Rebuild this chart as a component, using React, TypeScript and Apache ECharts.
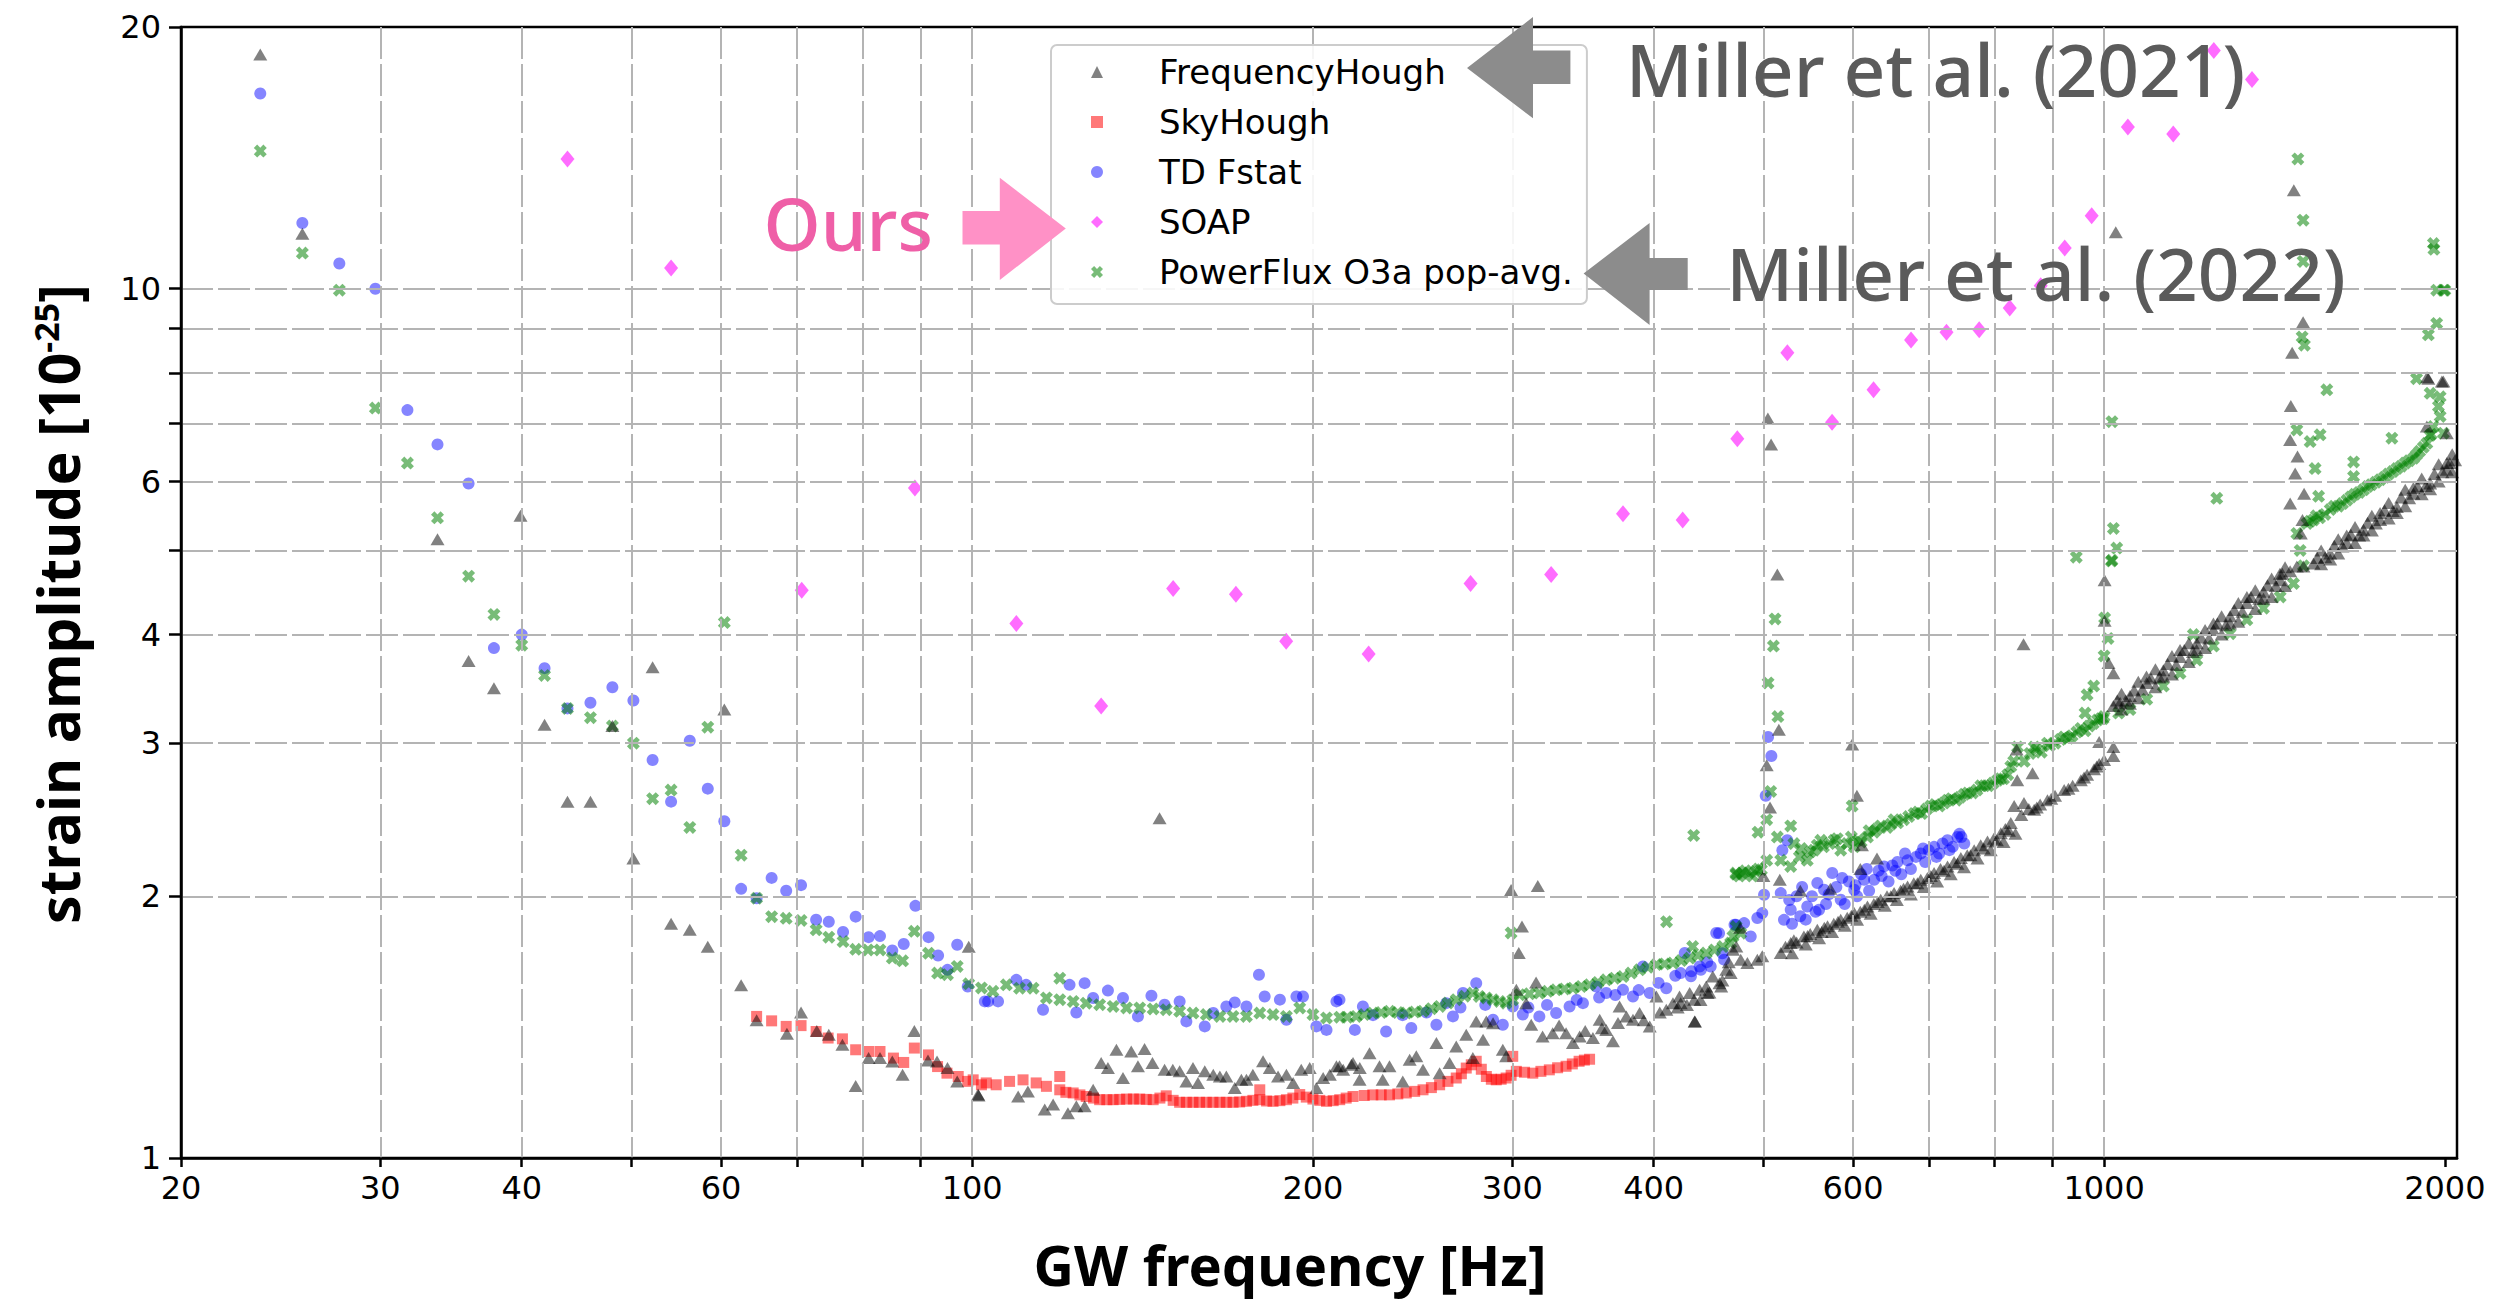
import React, { useEffect, useRef } from 'react';
import * as echarts from 'echarts';

// ---------- axis ticks / labels ----------
const xTickValues = [20, 30, 40, 50, 60, 70, 80, 90, 100, 200, 300, 400, 500, 600, 700, 800, 900, 1000, 2000];
const xLabelValues = [20, 30, 40, 60, 100, 200, 300, 400, 600, 1000, 2000];
const yTickValues = [1, 2, 3, 4, 5, 6, 7, 8, 9, 10, 20];
const yLabelValues = [1, 2, 3, 4, 6, 10, 20];
const seriesNames = ['FrequencyHough', 'SkyHough', 'TD Fstat', 'SOAP', 'PowerFlux O3a pop-avg.'];

// ---------- data: [GW frequency (Hz), strain amplitude (1e-25)] ----------
const soap: [number, number][] = [
  [43.9, 14.1], [54.2, 10.56], [70.7, 4.5], [89.0, 5.9], [109.4, 4.12], [130, 3.31], [150.5, 4.52], [171, 4.45],
  [189.4, 3.93], [224, 3.8], [275.6, 4.58], [324.7, 4.69], [375.8, 5.51], [424.3, 5.42], [474.2, 6.72], [525, 8.44],
  [575, 7.02], [625.6, 7.65], [675.2, 8.73], [725.7, 8.91], [775.6, 8.97], [825.3, 9.5], [879, 10.08], [923, 11.14],
  [975, 12.13], [1049.5, 15.35], [1151, 15.06], [1250, 18.79], [1351, 17.4],
];

const skyHough: [number, number][] = [
  [64.5, 1.455], [66.5, 1.438], [68.5, 1.417], [70.6, 1.42], [72.8, 1.398], [74.6, 1.374], [76.8, 1.371], [78.9, 1.332],
  [81, 1.326], [82.9, 1.326], [85.2, 1.303], [87, 1.288], [88.9, 1.338], [91.5, 1.314], [93.2, 1.274], [95, 1.252],
  [97.2, 1.241], [99.1, 1.225], [100.2, 1.23], [101.9, 1.214], [102.9, 1.22], [105, 1.214], [107.9, 1.225], [110.9, 1.23],
  [113.9, 1.22], [116.3, 1.209], [119.5, 1.241], [119.5, 1.198], [121, 1.19], [122.8, 1.188], [124.5, 1.182], [126.1, 1.177],
  [128, 1.172], [129.6, 1.167], [131.5, 1.167], [133.2, 1.167], [135, 1.168], [136.9, 1.169], [138.8, 1.169], [140.6, 1.169],
  [142.5, 1.168], [144.5, 1.167], [146.5, 1.172], [148.4, 1.179], [150.5, 1.165], [152.5, 1.159], [154.6, 1.159], [156.7, 1.159],
  [158.8, 1.159], [161, 1.159], [163.2, 1.159], [165.5, 1.159], [167.7, 1.159], [170, 1.159], [172.3, 1.16], [174.7, 1.162],
  [177, 1.165], [179.5, 1.198], [179.5, 1.167], [182, 1.163], [184.4, 1.162], [187, 1.164], [189.5, 1.167], [192, 1.172],
  [194.7, 1.183], [197.3, 1.175], [200, 1.169], [202.8, 1.165], [205.6, 1.162], [208.4, 1.164], [211.2, 1.167], [214, 1.172],
  [217, 1.177], [222, 1.18], [225.9, 1.182], [229.8, 1.182], [233.7, 1.182], [237.7, 1.185], [241.8, 1.188], [246, 1.193],
  [250.2, 1.198], [254.5, 1.205], [258.8, 1.214], [263.2, 1.225], [267.7, 1.236], [270.5, 1.25], [273.2, 1.269], [276, 1.28],
  [278.8, 1.292], [281.7, 1.265], [284.6, 1.241], [287.5, 1.232], [290.4, 1.23], [293.3, 1.232], [296.3, 1.236], [299.3, 1.245],
  [300.3, 1.309], [302.5, 1.258], [307.6, 1.255], [312.8, 1.252], [318, 1.258], [323.5, 1.263], [329, 1.27], [334.7, 1.275],
  [339, 1.283], [343.7, 1.292], [347.4, 1.296], [351.1, 1.299],
];

const tdFstatLow: [number, number][] = [
  [23.5, 16.77], [25.6, 11.9], [27.6, 10.69], [29.7, 10.0], [31.7, 7.25], [33.7, 6.62], [35.9, 5.97], [37.8, 3.86],
  [40, 4.0], [41.9, 3.66], [43.9, 3.29], [46, 3.34], [48.1, 3.48], [50.2, 3.36], [52.2, 2.87], [54.2, 2.57], [56.3, 3.02],
  [58.4, 2.66], [60.4, 2.44], [62.5, 2.04], [64.5, 1.99], [66.5, 2.1], [68.5, 2.03], [70.6, 2.06], [72.8, 1.88], [74.7, 1.87],
  [76.9, 1.82], [78.9, 1.895], [81, 1.795], [82.9, 1.8], [85, 1.733], [87, 1.763], [89.1, 1.95], [91.5, 1.795], [93.3, 1.71],
  [95.1, 1.646], [97, 1.759], [99.1, 1.575], [102.6, 1.514],
];
const tdFstatMid: [number, number][] = [
  [103.3, 1.514], [105.4, 1.514], [109.4, 1.603], [111.6, 1.582], [115.5, 1.481], [121.9, 1.582], [123.6, 1.47], [125.7, 1.589],
  [127.9, 1.528], [131.8, 1.558], [135.9, 1.528], [140.1, 1.455], [144, 1.537], [147.9, 1.501], [152.5, 1.514], [154.6, 1.436],
  [160.5, 1.417], [163.3, 1.468], [167.7, 1.494], [170.6, 1.51], [174.7, 1.494], [179.2, 1.625], [181.3, 1.534], [187, 1.521],
  [189.5, 1.442], [193.4, 1.534], [196, 1.534], [201.4, 1.417], [205.6, 1.404], [209.8, 1.514], [211.1, 1.521], [217.8, 1.404],
  [221.4, 1.494], [226, 1.46], [232.1, 1.398], [240, 1.46], [244.3, 1.411], [252, 1.47], [257.1, 1.423], [262.3, 1.507],
  [265.9, 1.455], [270, 1.49], [271.4, 1.548], [278.8, 1.589], [284, 1.5], [288.5, 1.442], [294.3, 1.423], [300.3, 1.494],
  [306.5, 1.462], [310, 1.49], [317, 1.455], [322, 1.5], [328, 1.468], [337.1, 1.494], [342, 1.52], [346.4, 1.507],
  [355.9, 1.575], [358, 1.53], [363.2, 1.548], [370, 1.54], [375.8, 1.561], [383.5, 1.534], [388, 1.56], [391.4, 1.661],
  [396.8, 1.548], [404, 1.59], [410.4, 1.568], [418, 1.62], [426.1, 1.721], [432, 1.64], [439.2, 1.661], [446, 1.68],
  [454.3, 1.815], [460, 1.72], [471.5, 1.855],
];
const tdFstatHigh: [number, number][] = [
  [422.6, 1.632], [431.5, 1.618], [440.3, 1.646], [449.2, 1.661], [456.9, 1.814], [461.6, 1.691], [472.8, 1.855], [480.8, 1.863],
  [487.3, 1.798], [493.9, 1.888], [498.9, 1.913], [500.7, 2.008], [502.4, 2.61], [504.8, 3.05], [508.2, 2.9], [518, 2.017],
  [519.7, 2.26], [521.4, 1.879], [524.9, 2.32], [528.6, 1.93], [530, 1.86], [535, 2.0], [539, 1.897], [545, 1.88],
  [546.7, 1.947], [552, 2.0], [558, 2.072], [560, 1.93], [565.7, 2.035], [568, 1.96], [575.2, 2.127], [580, 2.05],
  [585.2, 1.982], [590, 1.96], [595, 2.08], [601.5, 2.035], [605, 2.0], [610, 2.12], [613.8, 2.089], [620, 2.03],
  [626.3, 2.089], [632, 2.14], [639.2, 2.165], [645, 2.08], [650, 2.17], [656.8, 2.19], [662, 2.12], [670.4, 2.2],
  [675, 2.15], [682, 2.22], [688.7, 2.24], [695, 2.19], [700, 2.26], [707.6, 2.28], [715, 2.24], [720, 2.3], [727.2, 2.32],
  [735, 2.28], [742.1, 2.34], [745, 2.36], [752.4, 2.3],
  [527, 1.98], [541, 2.05], [556, 1.92], [571, 2.01], [587, 2.1], [603, 2.06], [617, 2.15], [636, 2.11], [654, 2.14],
  [667, 2.24], [692, 2.27], [711, 2.22], [730, 2.26], [748, 2.34],
];

const powerFluxLow: [number, number][] = [
  [23.5, 14.4], [25.6, 10.99], [27.6, 9.96], [29.7, 7.29], [31.7, 6.3], [33.7, 5.45], [35.9, 4.67], [37.8, 4.22], [40, 3.89],
  [41.9, 3.59], [43.9, 3.29], [46, 3.21], [48.1, 3.14], [50.2, 3.0], [52.2, 2.59], [54.2, 2.65], [56.3, 2.4], [58.4, 3.13],
  [60.4, 4.13], [62.5, 2.23], [64.5, 1.99], [66.5, 1.895], [68.5, 1.887], [70.6, 1.876], [72.8, 1.83], [74.7, 1.795],
  [76.9, 1.774], [78.9, 1.738], [80.9, 1.735], [82.9, 1.735], [85, 1.698], [86.8, 1.686], [88.9, 1.823], [91.5, 1.72],
  [93.2, 1.632], [95.1, 1.625], [97, 1.661], [99.3, 1.586], [101.9, 1.569],
];
const powerFluxMid: [number, number][] = [
  [104.3, 1.555], [107.2, 1.582], [110.1, 1.568], [113.2, 1.568], [116.3, 1.528], [119.5, 1.521], [119.5, 1.61], [122.8, 1.514],
  [126.1, 1.507], [129.6, 1.501], [133.2, 1.494], [136.9, 1.488], [140.6, 1.488], [144.5, 1.484], [148.4, 1.481], [152.5, 1.475],
  [156.7, 1.468], [161, 1.462], [165.5, 1.455], [170, 1.455], [174.7, 1.455], [179.5, 1.468], [184.4, 1.462], [189.5, 1.455],
  [194.7, 1.488], [200, 1.462], [205.6, 1.449], [211.2, 1.452], [214.5, 1.452], [218.4, 1.455], [222, 1.462], [225.9, 1.468],
  [229.8, 1.47], [233.7, 1.475], [237.7, 1.47], [241.8, 1.468], [246, 1.472], [250.2, 1.475], [254.5, 1.485], [258.8, 1.494],
  [263.2, 1.508], [267.7, 1.521], [272.3, 1.535], [276.9, 1.548], [280.5, 1.534], [284.6, 1.528], [288.5, 1.521], [292.4, 1.514],
  [296.3, 1.507], [300.3, 1.52], [304.5, 1.541], [310.7, 1.545], [317, 1.548], [322.4, 1.555], [328, 1.561], [333.6, 1.565],
  [339.4, 1.568], [345.2, 1.575], [351.1, 1.582], [357.1, 1.592], [363.2, 1.603], [369.4, 1.61], [375.8, 1.617], [382.1, 1.632],
  [388.7, 1.646], [395.4, 1.657], [402.2, 1.669], [409, 1.672], [416, 1.676], [423.1, 1.687], [430.4, 1.698], [437.7, 1.71],
  [445.1, 1.721], [452.7, 1.735], [460.5, 1.751], [467.8, 1.767], [470, 1.798], [473, 1.846], [477.5, 1.814],
  [299.3, 1.815], [410.6, 1.87], [433.9, 2.35], [473, 2.12], [433, 1.751],
  [472.8, 2.127], [476, 2.11], [479, 2.127], [482, 2.14], [485.5, 2.127], [489, 2.11], [492.2, 2.136], [495, 2.15], [498, 2.146],
  [494.6, 2.37], [503.4, 2.45], [507.5, 2.64], [504.8, 3.52], [510.3, 3.88], [512, 4.17], [515, 3.22], [503.4, 2.2],
];
const powerFluxHigh: [number, number][] = [
  [514.4, 2.34], [518, 2.2], [528.6, 2.41], [528.6, 2.165], [538, 2.22], [546.7, 2.2], [554.3, 2.26], [561.9, 2.32],
  [565, 2.28], [577.3, 2.32], [585.2, 2.26], [593, 2.3], [601.5, 2.28], [610, 2.31], [617.9, 2.34], [626, 2.37], [634.8, 2.41],
  [643, 2.4], [652.3, 2.45], [665, 2.45], [679.5, 2.49], [690, 2.49], [702.7, 2.54], [715, 2.54], [727.2, 2.58], [740, 2.58],
  [752.4, 2.62], [765, 2.63], [778.1, 2.68], [790, 2.68], [805.1, 2.72], [815, 2.73], [827.1, 2.82], [838.5, 2.97], [850, 2.86],
  [867.4, 2.97], [880, 2.93], [891.2, 3.0], [905, 3.0], [922, 3.05], [937, 3.06], [953.8, 3.12], [970, 3.14], [986.6, 3.19],
  [993, 3.2], [1000, 3.22], [1030, 3.25], [1054, 3.28], [1090.6, 3.37], [1128, 3.49], [1167, 3.61], [1207.5, 3.74],
  [1249, 3.88], [1292, 4.01], [1337, 4.16], [1383, 4.29], [1430.7, 4.42], [1470, 4.58], [1480, 5.23], [1490, 5.0], [1500, 4.8],
  [1511, 5.37], [1531, 5.42], [1550, 5.45], [1584, 5.57], [1610, 5.62], [1638.5, 5.71], [1665, 5.8], [1695, 5.87], [1722, 5.95],
  [1753.5, 6.03], [1783, 6.12], [1814, 6.21], [1845, 6.3], [1876.5, 6.38], [1900, 6.5], [1928, 6.64], [1954, 6.94],
  [1974, 7.32], [1981, 7.51],
  [532, 2.3], [550, 2.25], [572, 2.3], [598, 2.34], [620, 2.38], [648, 2.42], [672, 2.47], [697, 2.52], [722, 2.56],
  [746, 2.6], [772, 2.65], [798, 2.7], [822, 2.76], [860, 2.92], [895, 2.98], [930, 3.04], [962, 3.1], [998, 3.2],
  [1520, 5.4], [1567, 5.5], [1624, 5.66], [1680, 5.83], [1738, 5.99], [1799, 6.16], [1860, 6.34], [1914, 6.57], [1940, 6.78],
  [540, 2.27], [558, 2.29], [581, 2.33], [606, 2.32], [630, 2.39], [657, 2.43], [685, 2.5], [709, 2.55], [733, 2.59],
  [758, 2.63], [784, 2.68], [810, 2.73], [832, 2.86], [872, 2.95], [915, 3.03], [946, 3.09], [978, 3.16],
  [1540, 5.48], [1597, 5.62], [1652, 5.76], [1709, 5.92], [1769, 6.07], [1830, 6.25], [1888, 6.44], [1945, 6.8],
];
const powerFluxOutliers: [number, number][] = [
  [599, 2.54], [945, 4.91], [962, 3.25], [966, 3.41], [979, 3.49], [1000, 3.78], [1001, 4.18], [1008, 3.96], [1015, 4.86],
  [1016, 7.03], [1016, 4.87], [1019, 5.3], [1026, 5.03], [1199, 4.0], [1257.5, 5.74], [1483, 14.1], [1499, 11.99],
  [1499, 10.75], [1503, 8.61], [1496, 8.8], [1573, 7.65], [1480, 6.88], [1520.6, 6.67], [1551.7, 6.79], [1536, 6.21],
  [1547, 5.77], [1661, 6.32], [1661, 6.08], [1795.6, 6.73], [1888, 7.88], [1934, 8.85], [1941, 7.58], [1954, 11.27],
  [1956, 11.1], [1967, 9.96], [1967, 9.12], [1981, 7.13], [1994, 6.82], [1996, 9.96], [2000, 9.96],
];

const freqHoughLow: [number, number][] = [
  [23.5, 18.6], [25.6, 11.57], [33.7, 5.15], [35.9, 3.73], [37.8, 3.47], [39.9, 5.48], [41.9, 3.15], [43.9, 2.57], [46.0, 2.57],
  [48.1, 3.14], [50.2, 2.21], [52.2, 3.67], [54.2, 1.86], [56.3, 1.83], [58.4, 1.75], [60.4, 3.28], [62.5, 1.58], [64.5, 1.44],
  [68.6, 1.39], [70.6, 1.47], [72.9, 1.4], [74.7, 1.386], [76.8, 1.35], [78.9, 1.21], [81.0, 1.303], [82.9, 1.303], [85.0, 1.291],
  [86.8, 1.247], [88.9, 1.4], [91.4, 1.295], [93.1, 1.291], [95.1, 1.269], [97.0, 1.225], [99.3, 1.75], [101.3, 1.18],
];
const freqHoughMid: [number, number][] = [
  [101.2, 1.183], [109.8, 1.177], [112.0, 1.193], [115.9, 1.137], [117.9, 1.152], [121.5, 1.126], [123.6, 1.147], [125.7, 1.147],
  [127.9, 1.198], [130.0, 1.286], [131.8, 1.269], [134.1, 1.332], [135.9, 1.236], [138.2, 1.326], [140.1, 1.275], [142.0, 1.335],
  [144.3, 1.286], [146.4, 2.46], [147.9, 1.263], [150.4, 1.263], [152.5, 1.258], [154.6, 1.225], [156.7, 1.269], [158.3, 1.22],
  [160.5, 1.258], [163.3, 1.247], [165.5, 1.241], [167.7, 1.241], [170.6, 1.204], [172.9, 1.23], [174.7, 1.23], [177.0, 1.247],
  [180.7, 1.292], [183.2, 1.269], [186.3, 1.241], [189.5, 1.247], [192.1, 1.22], [195.3, 1.263], [198.7, 1.269], [201.4, 1.204],
  [204.2, 1.236], [207.0, 1.247], [209.8, 1.275], [212.7, 1.263], [216.3, 1.28], [220, 1.269],
  [211.1, 1.275], [217, 1.286], [219.9, 1.23], [224.4, 1.32], [229, 1.275], [230.5, 1.23], [233.7, 1.275], [240.1, 1.225],
  [243.5, 1.297], [246.8, 1.309], [250.2, 1.263], [257.1, 1.356], [258.8, 1.252], [264.1, 1.286], [267.7, 1.344], [273.2, 1.386],
  [276.9, 1.303], [278.8, 1.436], [282.7, 1.368], [284.6, 1.436], [288.5, 1.429], [294.3, 1.332], [296.3, 1.309], [299.3, 2.034],
  [306, 1.846], [304, 1.721], [316, 2.056], [314.9, 1.592], [302.5, 1.561], [308.6, 1.507], [311.8, 1.423], [319.1, 1.38],
  [325.7, 1.392], [330, 1.42], [334.7, 1.392], [339.4, 1.356], [344.1, 1.38], [348, 1.4], [353.5, 1.374], [358.4, 1.442],
  [360, 1.41], [363.2, 1.404], [368.2, 1.362], [372, 1.43], [373.2, 1.494], [378.4, 1.455], [383.5, 1.442], [388.7, 1.468],
  [392, 1.44], [396.8, 1.417], [402.2, 1.534], [405, 1.47], [410.4, 1.481], [416, 1.507], [420, 1.49], [421.6, 1.534],
  [428, 1.5], [430.4, 1.548], [434.8, 1.436], [439.2, 1.561], [440, 1.52], [445.1, 1.575], [448, 1.55], [451.1, 1.617],
  [457.3, 1.589], [460, 1.6], [463.7, 1.646], [466, 1.68], [470, 1.736], [473.2, 1.751],
];
const freqHoughHigh: [number, number][] = [
  [422.6, 1.507], [434.4, 1.521], [435, 1.436], [446.4, 1.548], [458.9, 1.575], [467.8, 1.632], [477, 1.84], [477.5, 1.691],
  [484, 1.676], [493.9, 1.691], [498.9, 1.706], [500, 2.11], [503.4, 2.83], [504.6, 7.09], [506.8, 2.53], [507.9, 6.62],
  [514.4, 4.69], [516, 3.11], [517, 2.09], [518, 1.721], [523, 1.75], [528.6, 1.767], [535, 1.77], [539, 2.03], [543, 1.798],
  [550, 1.81], [558, 1.83], [563, 1.82], [569.7, 1.847], [573, 2.04], [577, 1.86], [585.2, 1.879], [593, 1.89], [599, 2.99],
  [601.5, 1.913], [604.8, 2.61], [609, 1.92], [609, 2.15], [611, 2.29], [617.9, 1.947], [626, 1.96], [630, 2.21], [634.8, 1.982],
  [643, 2.0], [652.3, 2.017], [661, 2.03], [670.4, 2.053], [679, 2.07], [688.7, 2.089], [698, 2.1], [707.6, 2.127], [717, 2.15],
  [727.2, 2.165], [737, 2.19], [747.2, 2.213], [757, 2.23], [767.7, 2.26], [778, 2.29], [788.8, 2.313], [799, 2.33],
  [810.5, 2.364], [818, 2.39], [827.1, 2.428], [832.8, 2.54], [837, 2.95], [838, 2.72], [848.8, 3.9], [849.6, 2.56], [858, 2.52],
  [864.5, 2.77], [867.4, 2.515], [878, 2.55], [891.2, 2.58], [905, 2.61], [922, 2.65], [938, 2.68], [953.8, 2.72], [966, 2.76],
  [979.7, 2.8], [990, 2.84], [990, 3.01], [1000, 2.87], [1001, 4.15], [1001, 4.62], [1009, 3.71], [1019, 2.97], [1019, 2.9],
  [1019, 3.61], [1024, 11.61], [1033, 3.34],
  [530, 1.72], [545, 1.76], [560, 1.79], [575, 1.82], [590, 1.85], [605, 1.88], [622, 1.91], [640, 1.95], [656, 1.98],
  [675, 2.01], [693, 2.05], [712, 2.08], [732, 2.12], [752, 2.16], [773, 2.21], [794, 2.26], [815, 2.31], [835, 2.36],
  [532, 1.78], [547, 1.8], [566, 1.84], [582, 1.87], [598, 1.9], [614, 1.93], [631, 1.97], [648, 2.0], [665, 2.04],
  [684, 2.07], [703, 2.11], [722, 2.14], [742, 2.18], [762, 2.23], [783, 2.27], [804, 2.32], [824, 2.38], [845, 2.48],
  [872, 2.53], [898, 2.59], [930, 2.66], [960, 2.74], [985, 2.82],
];
const freqHoughBand: [number, number][] = [
  [1019, 3.31], [1036, 3.42], [1036, 3.28], [1054, 3.4], [1072, 3.53], [1072, 3.38], [1090.6, 3.52], [1110, 3.65], [1110, 3.48],
  [1128, 3.64], [1148, 3.78], [1148, 3.6], [1167, 3.77], [1188, 3.91], [1188, 3.72], [1207.5, 3.91], [1228, 4.05], [1228, 3.86],
  [1249, 4.05], [1270, 4.2], [1270, 4.0], [1292, 4.2], [1314, 4.35], [1314, 4.14], [1337, 4.35], [1360, 4.5], [1360, 4.28],
  [1383, 4.48], [1406, 4.64], [1406, 4.42], [1430.7, 4.62], [1445, 4.78], [1445, 4.55], [1460, 4.73], [1480, 4.79], [1500, 4.79],
  [1531, 4.83], [1555, 5.0], [1555, 4.82], [1584, 4.96], [1610, 5.15], [1610, 4.96], [1638.5, 5.1], [1666, 5.32], [1666, 5.1],
  [1695, 5.28], [1724, 5.48], [1724, 5.27], [1753.5, 5.42], [1784, 5.67], [1784, 5.44], [1814, 5.61], [1845, 5.87], [1845, 5.62],
  [1876.5, 5.81], [1908, 6.05], [1908, 5.8], [1941, 5.97], [1975, 6.28], [1975, 6.0], [2008, 6.19], [2030, 6.45], [2030, 6.15],
  [2042, 6.35],
  [1045, 3.36], [1081, 3.46], [1119, 3.57], [1158, 3.69], [1198, 3.82], [1238, 3.96], [1281, 4.1], [1325, 4.25], [1371, 4.4],
  [1418, 4.55], [1568, 4.91], [1624, 5.05], [1680, 5.2], [1738, 5.37], [1799, 5.55], [1860, 5.74], [1924, 5.93], [1990, 6.15],
  [1027, 3.36], [1063, 3.45], [1100, 3.56], [1138, 3.7], [1177, 3.84], [1218, 3.97], [1259, 4.12], [1303, 4.27], [1348, 4.42],
  [1394, 4.56], [1437, 4.7], [1543, 4.9], [1597, 5.06], [1652, 5.21], [1709, 5.38], [1769, 5.56], [1830, 5.75], [1892, 5.92],
  [1958, 6.12], [2020, 6.3],
  [1054, 3.33], [1128, 3.58], [1207, 3.84], [1292, 4.12], [1383, 4.4], [1584, 4.88], [1695, 5.2], [1814, 5.52], [1941, 5.88],
  [1090, 3.58], [1167, 3.84], [1249, 4.12], [1337, 4.42], [1430, 4.7], [1638, 5.2], [1753, 5.52], [1876, 5.9], [2008, 6.3],
  [1460, 5.66], [1460, 6.7], [1462, 7.33], [1466, 8.44], [1471, 12.98], [1475, 6.13], [1482, 6.41], [1492, 5.23], [1497, 5.42],
  [1499, 9.15], [1502, 5.81], [1928, 6.94], [1929, 7.91], [1934, 7.88], [1988, 7.82], [1994, 7.82], [2008, 6.82],
];

const xMarker = 'path://M0,2.6 L2.6,0 L5,2.4 L7.4,0 L10,2.6 L7.6,5 L10,7.4 L7.4,10 L5,7.6 L2.6,10 L0,7.4 L2.4,5 Z';

export default function App() {
  const ref = useRef<HTMLDivElement>(null);

  useEffect(() => {
    const chart = echarts.init(ref.current!, null, { renderer: 'svg' });
    const tickFont = { fontFamily: 'DejaVu Sans', fontSize: 32, color: '#000' };
    const annFont = '500 73px "Noto Sans"';
    const option: any = {
      animation: false,
      backgroundColor: '#ffffff',
      grid: {
        left: 181, top: 27, right: 63, bottom: 144,
        show: true, borderColor: '#000', borderWidth: 2.5, backgroundColor: 'transparent',
      },
      xAxis: {
        type: 'log', logBase: 10, min: 20, max: 2050,
        name: 'GW frequency [Hz]', nameLocation: 'middle', nameGap: 76,
        nameTextStyle: {
          fontFamily: 'Noto Sans', fontWeight: 'bold', fontSize: 56, color: '#000', lineHeight: 60, padding: [0, 58, 0, 0],
        },
        axisLine: { show: true, onZero: false, lineStyle: { color: '#000', width: 2.5 } },
        axisTick: { show: true, length: 9, customValues: xTickValues, lineStyle: { color: '#000', width: 2.5 } },
        axisLabel: { ...tickFont, margin: 14, customValues: xLabelValues, formatter: (v: number) => String(Math.round(v)) },
        splitLine: {
          show: true, showMinLine: false, showMaxLine: false,
          lineStyle: { color: '#b4b4b4', width: 2, type: [32, 5] },
        },
        z: 10,
      },
      yAxis: {
        type: 'log', logBase: 10, min: 1, max: 20,
        name: '{a|strain amplitude [10}{b|-25}{a|]}', nameLocation: 'middle', nameGap: 95, nameRotate: 90,
        nameTextStyle: {
          padding: [0, 23, 0, 0],
          rich: {
            a: { fontFamily: 'Noto Sans', fontWeight: 'bold', fontSize: 57, color: '#000' },
            b: { fontFamily: 'Noto Sans', fontWeight: 'bold', fontSize: 34, color: '#000', verticalAlign: 'top' },
          },
        },
        axisLine: { show: true, onZero: false, lineStyle: { color: '#000', width: 2.5 } },
        axisTick: { show: true, length: 12, customValues: yTickValues, lineStyle: { color: '#000', width: 2.5 } },
        axisLabel: { ...tickFont, margin: 20, customValues: yLabelValues, formatter: (v: number) => String(Math.round(v)) },
        splitLine: {
          show: true, showMinLine: false, showMaxLine: false,
          lineStyle: { color: '#b4b4b4', width: 2, type: [32, 5] },
        },
        z: 10,
      },
      legend: {
        data: seriesNames,
        orient: 'vertical',
        left: 1051, top: 45,
        padding: [7, 14, 12, 40],
        itemGap: 10,
        itemWidth: 12, itemHeight: 12,
        backgroundColor: 'rgba(255,255,255,0.88)',
        borderColor: '#cccccc', borderWidth: 2, borderRadius: 6,
        selectedMode: false,
        formatter: (name: string) => `{p| }{t|${name}}`,
        textStyle: {
          fontFamily: 'DejaVu Sans', fontSize: 34, color: '#000', lineHeight: 40,
          rich: {
            p: { width: 51, fontSize: 34 },
            t: { fontFamily: 'DejaVu Sans', fontSize: 34, color: '#000', lineHeight: 40 },
          },
        },
        z: 20,
      },
      series: [
        {
          name: 'SkyHough', type: 'scatter', data: skyHough, symbol: 'rect', symbolSize: 11,
          itemStyle: { color: 'rgba(255,0,0,0.66)' }, z: 2, silent: true, emphasis: { disabled: true },
        },
        {
          name: 'TD Fstat', type: 'scatter', data: [...tdFstatLow, ...tdFstatMid, ...tdFstatHigh], symbol: 'circle', symbolSize: 12,
          itemStyle: { color: 'rgba(0,0,255,0.6)' }, z: 3, silent: true, emphasis: { disabled: true },
        },
        {
          name: 'PowerFlux O3a pop-avg.', type: 'scatter',
          data: [...powerFluxLow, ...powerFluxMid, ...powerFluxHigh, ...powerFluxOutliers], symbol: xMarker, symbolSize: 13,
          itemStyle: { color: 'rgba(0,128,0,0.66)' }, z: 4, silent: true, emphasis: { disabled: true },
        },
        {
          name: 'FrequencyHough', type: 'scatter',
          data: [...freqHoughLow, ...freqHoughMid, ...freqHoughHigh, ...freqHoughBand], symbol: 'triangle', symbolSize: [14, 12],
          itemStyle: { color: 'rgba(0,0,0,0.62)' }, z: 5, silent: true, emphasis: { disabled: true },
        },
        {
          name: 'SOAP', type: 'scatter', data: soap, symbol: 'diamond', symbolSize: [14, 17],
          itemStyle: { color: 'rgba(255,0,255,0.72)' }, z: 6, silent: true, emphasis: { disabled: true },
        },
      ],
      graphic: {
        elements: [
          {
            type: 'polygon', z: 100, silent: true,
            shape: { points: [[1467, 68], [1533, 17], [1533, 50.4], [1570.4, 50.4], [1570.4, 83.9], [1533, 83.9], [1533, 118.3]] },
            style: { fill: '#8c8c8c' },
          },
          {
            type: 'polygon', z: 100, silent: true,
            shape: { points: [[1583.6, 273.5], [1649.6, 223], [1649.6, 258], [1687.7, 258], [1687.7, 290], [1649.6, 290], [1649.6, 325]] },
            style: { fill: '#8c8c8c' },
          },
          {
            type: 'polygon', z: 100, silent: true,
            shape: { points: [[1065.8, 228.6], [999.8, 177.7], [999.8, 211], [962.5, 211], [962.5, 244.6], [999.8, 244.6], [999.8, 280]] },
            style: { fill: '#ff91c6' },
          },
          {
            type: 'text', z: 101, silent: true, x: 763.5, y: 222,
            style: { text: 'Ours', font: annFont, fill: '#ef5fa7', align: 'left', verticalAlign: 'middle' },
          },
          {
            type: 'text', z: 101, silent: true, x: 1625.7, y: 68,
            style: { text: 'Miller et al. (2021)', font: annFont, fill: '#5b5b5b', align: 'left', verticalAlign: 'middle' },
          },
          {
            type: 'text', z: 101, silent: true, x: 1726.2, y: 272,
            style: { text: 'Miller et al. (2022)', font: annFont, fill: '#5b5b5b', align: 'left', verticalAlign: 'middle' },
          },
        ],
      },
    };
    chart.setOption(option);
    return () => chart.dispose();
  }, []);

  return (
    <div
      ref={ref}
      style={{ position: 'fixed', left: 0, top: 0, width: 2520, height: 1302, background: '#fff' }}
    />
  );
}
